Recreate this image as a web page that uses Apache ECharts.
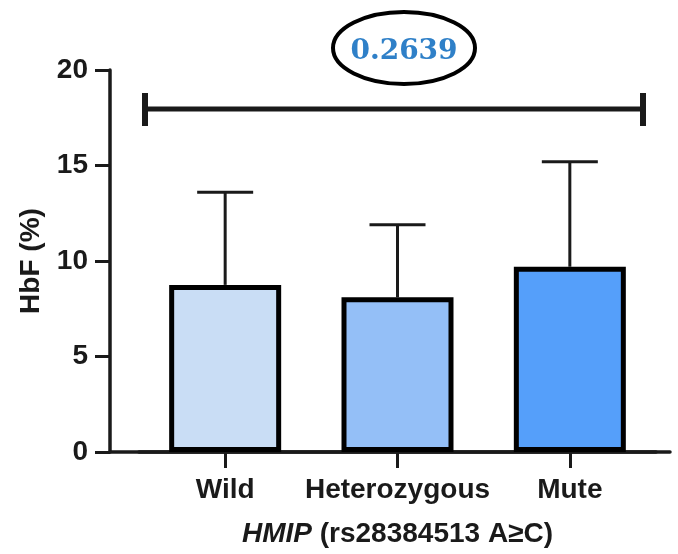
<!DOCTYPE html>
<html>
<head>
<meta charset="utf-8">
<script src="https://cdn.jsdelivr.net/npm/echarts@6/dist/echarts.min.js"></script>
<style>
  html, body { margin: 0; background: #fff; }
  #main { width: 678px; height: 554px; }
</style>
</head>
<body>
<div id="main"></div>
<script>
// data
const categories = ['Wild', 'Heterozygous', 'Mute'];
const meanHbF = [8.75, 8.1, 9.7];
const sdHbF = [4.85, 3.8, 5.5];
const barColors = ['#c9ddf5', '#94bff7', '#559ffa'];
const yMin = 0, yMax = 20, yStep = 5;
const pValue = '0.2639';

const ink = '#1a1a1a';
const font = 'Liberation Sans, Arial, sans-serif';

let chart = echarts.init(document.getElementById('main'));

// bars with their own fill colour
let barData = meanHbF.map((v, i) => ({ value: v, itemStyle: { color: barColors[i] } }));
// error bars: [index, mean, sd]
let errData = meanHbF.map((v, i) => [i, v, sdHbF[i]]);

let option = {
  backgroundColor: '#fff',
  animation: false,
  grid: [
    // frame grid: carries the y axis and the full-width base line
    { left: 110, right: 8, top: 70, bottom: 102, outerBoundsMode: 'none', containLabel: false },
    // data grid: where the three bars sit
    { left: 139, right: 22, top: 70, bottom: 102, outerBoundsMode: 'none', containLabel: false }
  ],
  xAxis: [
    {
      gridIndex: 0, type: 'category', data: [''],
      axisLine: { lineStyle: { color: ink, width: 3.5 } },
      axisTick: { show: false }, axisLabel: { show: false }
    },
    {
      gridIndex: 1, type: 'category', data: categories,
      axisLine: { show: true, lineStyle: { color: ink, width: 3.5 } },
      axisTick: { show: true, alignWithLabel: true, length: 16, lineStyle: { color: ink, width: 3 } },
      axisLabel: { interval: 0, color: ink, fontFamily: font, fontWeight: 'bold', fontSize: 28, margin: 24 },
      name: '{i|HMIP} (rs28384513 A≥C)',
      nameLocation: 'middle',
      nameGap: 68,
      nameMoveOverlap: false,
      nameTextStyle: {
        color: ink, fontFamily: font, fontSize: 28, fontWeight: 'bold',
        rich: { i: { fontStyle: 'italic', fontWeight: 'bold', fontFamily: font, fontSize: 28, color: ink } }
      }
    }
  ],
  yAxis: [
    {
      gridIndex: 0, type: 'value', min: yMin, max: yMax, interval: yStep,
      splitLine: { show: false },
      axisLine: { show: true, lineStyle: { color: ink, width: 3.5 } },
      axisTick: { show: true, length: 15, lineStyle: { color: ink, width: 3 } },
      axisLabel: { color: ink, fontFamily: font, fontWeight: 'bold', fontSize: 28, margin: 22 },
      name: 'HbF (%)',
      nameLocation: 'middle',
      nameGap: 65,
      nameMoveOverlap: false,
      nameRotate: 90,
      nameTextStyle: { color: ink, fontFamily: font, fontWeight: 'bold', fontSize: 28 }
    },
    {
      gridIndex: 1, type: 'value', min: yMin, max: yMax, interval: yStep, show: false
    }
  ],
  series: [
    {
      type: 'custom',
      xAxisIndex: 1, yAxisIndex: 1,
      z: 1,
      data: errData,
      renderItem: function (params, api) {
        const x = api.value(0);
        const base = api.coord([x, api.value(1)]);
        const top = api.coord([x, api.value(1) + api.value(2)]);
        const half = 28;
        const st = { stroke: ink, lineWidth: 3 };
        return {
          type: 'group',
          children: [
            { type: 'line', shape: { x1: top[0], y1: top[1], x2: base[0], y2: base[1] }, style: st },
            { type: 'line', shape: { x1: top[0] - half, y1: top[1], x2: top[0] + half, y2: top[1] }, style: st }
          ]
        };
      }
    },
    {
      type: 'bar',
      xAxisIndex: 1, yAxisIndex: 1,
      z: 2,
      barWidth: 112,
      data: barData,
      itemStyle: { borderColor: '#000', borderWidth: 5 }
    }
  ],
  graphic: [
    // comparison bracket
    { type: 'line', shape: { x1: 145, y1: 109, x2: 643, y2: 109 }, style: { stroke: ink, lineWidth: 5 } },
    { type: 'line', shape: { x1: 145, y1: 93, x2: 145, y2: 126 }, style: { stroke: ink, lineWidth: 6 } },
    { type: 'line', shape: { x1: 643, y1: 93, x2: 643, y2: 126 }, style: { stroke: ink, lineWidth: 6 } },
    // circled p value
    { type: 'ellipse', shape: { cx: 404, cy: 48, rx: 71, ry: 36 }, style: { fill: '#fff', stroke: '#000', lineWidth: 4 } },
    {
      type: 'text', x: 404, y: 52,
      style: {
        text: pValue, fill: '#2f80c8',
        font: 'bold 28px "DejaVu Serif", serif',
        textAlign: 'center', textVerticalAlign: 'middle', align: 'center', verticalAlign: 'middle'
      }
    }
  ]
};

chart.setOption(option);
</script>
</body>
</html>
